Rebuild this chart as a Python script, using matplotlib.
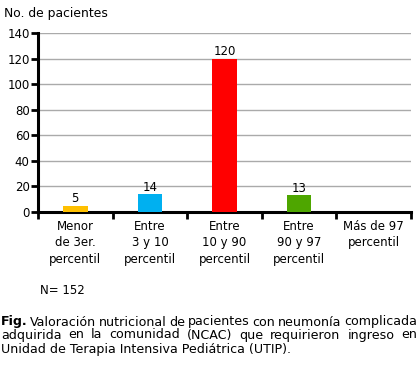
import matplotlib
matplotlib.use("Agg")
import matplotlib.pyplot as plt
import numpy as np

# data
categories = ["Menor\nde 3er.\npercentil", "Entre\n3 y 10\npercentil", "Entre\n10 y 90\npercentil",
              "Entre\n90 y 97\npercentil", "Más de 97\npercentil"]
values = [5, 14, 120, 13, 0]
colors = ["#FFC000", "#00B0F0", "#FF0000", "#4EA600", "#FFFFFF"]
yticks = [0, 20, 40, 60, 80, 100, 120, 140]
caption = [
    "Valoración nutricional de pacientes con neumonía complicada",
    "adquirida en la comunidad (NCAC) que requirieron ingreso en",
    "Unidad de Terapia Intensiva Pediátrica (UTIP).",
]

plt.rcParams['font.family'] = ['DejaVu Sans']
FS = 8.5
W, H = 420, 366

fig = plt.figure(figsize=(W / 100, H / 100), dpi=100)
ax = fig.add_axes([38 / W, 1 - 212 / H, (411 - 38) / W, (212 - 33) / H])

x = np.arange(len(values))
shown = [i for i, v in enumerate(values) if v > 0]
ax.bar(x[shown], [values[i] for i in shown], width=0.33,
       color=[colors[i] for i in shown], zorder=3)
for i in shown:
    ax.text(x[i], values[i] + 0.3, str(values[i]), ha='center', va='bottom', fontsize=FS, zorder=4)

ax.set_xlim(-0.5, len(values) - 0.5)
ax.set_ylim(0, 140)
ax.set_yticks(yticks)
ax.tick_params(axis='y', labelsize=FS, length=5, width=2, pad=1)
ax.yaxis.grid(True, color='#AAAAAA', linewidth=1, zorder=0)

# ticks at category boundaries
ax.set_xticks(np.arange(len(values) + 1) - 0.5)
ax.set_xticklabels([])
ax.tick_params(axis='x', length=5, width=2)
for i, lab in enumerate(categories):
    ax.text(x[i], -6, lab, ha='center', va='top', fontsize=FS, linespacing=1.35)

for s in ['top', 'right']:
    ax.spines[s].set_visible(False)
ax.spines['left'].set_linewidth(2.2)
ax.spines['bottom'].set_linewidth(2.2)

fig.text(4 / W, 1 - 13 / H, "No. de pacientes", fontsize=8.9, va='center', ha='left')
fig.text(40 / W, 1 - 290 / H, "N= 152", fontsize=FS, va='center', ha='left')

# caption, justified like the original
fig.canvas.draw()
r = fig.canvas.get_renderer()
x0, x1 = 1, 417
ys = [322, 335, 349]


def width_of(t):
    return t.get_window_extent(renderer=r).width


# pick a font size so the first line fits the width naturally
probe = fig.text(0, 0, "Fig. " + caption[0], fontsize=10)
cfs = 10 * (x1 - x0) / width_of(probe) * 1.01
probe.remove()

for li, line in enumerate(caption):
    y = 1 - ys[li] / H
    if li == len(caption) - 1:
        fig.text(x0 / W, y, line, fontsize=cfs, va='center', ha='left')
        continue
    items = [("Fig.", 'bold')] if li == 0 else []
    items += [(w, 'normal') for w in line.split(" ")]
    texts = [fig.text(0, y, w, fontsize=cfs, fontweight=fw, va='center', ha='left')
             for w, fw in items]
    ws = [width_of(t) for t in texts]
    gap = (x1 - x0 - sum(ws)) / (len(ws) - 1)
    pos = x0
    for t, w in zip(texts, ws):
        t.set_x(pos / W)
        pos += w + gap

fig.savefig("out.png", dpi=100)
